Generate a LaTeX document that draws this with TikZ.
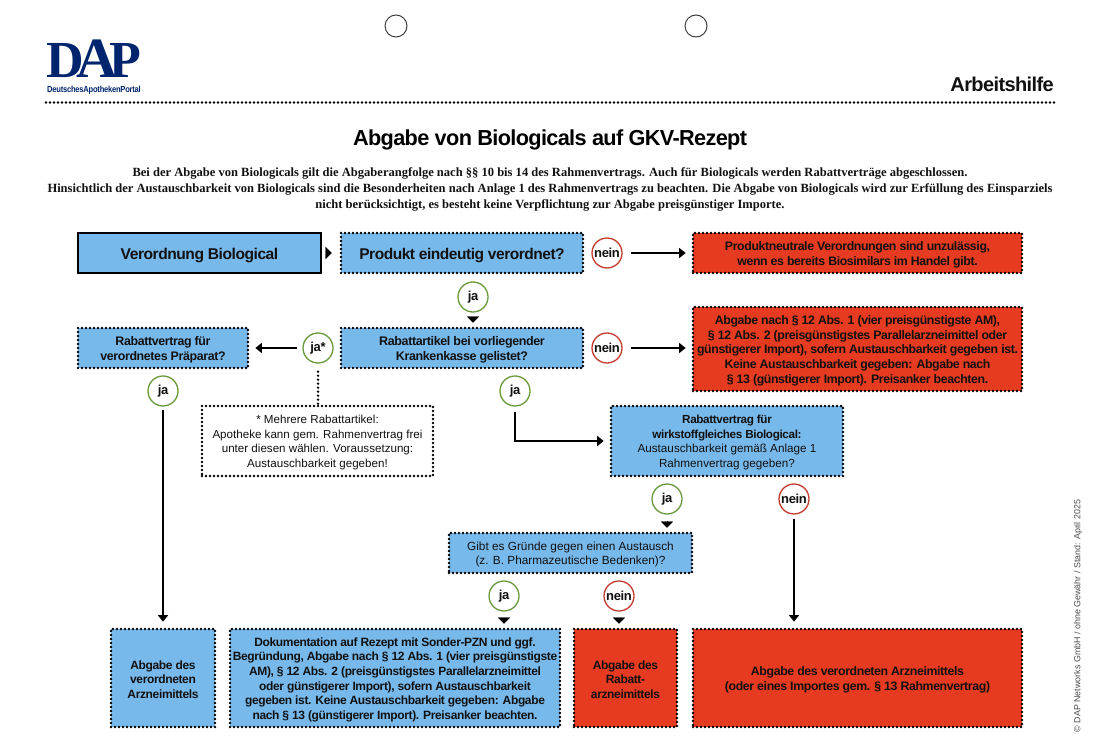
\documentclass[tikz,border=0pt]{standalone}
\usepackage{fontspec}
\setmainfont{Liberation Sans}
\newfontfamily\serifb{Liberation Serif}[BoldFont=* Bold]
\newfontfamily\sansb{Liberation Sans}[BoldFeatures={LetterSpace=-3.0}]
\usetikzlibrary{arrows.meta}
\definecolor{bluefill}{HTML}{78B9EC}
\definecolor{redfill}{HTML}{E63B20}
\definecolor{greenring}{HTML}{6A9A3C}
\definecolor{redring}{HTML}{C43C2E}
\definecolor{navy}{HTML}{00256E}
\definecolor{inkc}{HTML}{111111}
\newcommand{\fs}[2]{\fontsize{#1}{#2}\selectfont}
\newcommand{\lo}{\rule{0pt}{1em}}
\tikzset{
  x=1pt,y=-1pt,
  dotted border/.style={draw=black,line width=2.7pt,line cap=round,dash pattern=on 0pt off 4pt},
  boxbase/.style={dotted border,inner sep=0pt,align=center,text=inkc,font=\sansb\bfseries\fs{12.3}{14.6}},
  bluebox/.style={boxbase,fill=bluefill},
  redbox/.style={boxbase,fill=redfill},
  notebox/.style={boxbase,fill=white,font=\sansb\fs{11.6}{14.6}},
  startbox/.style={draw=black,line width=2pt,fill=bluefill,inner sep=0pt,align=center,text=inkc,font=\sansb\bfseries\fs{15.6}{19}},
  ring/.style={circle,draw,line width=1.3pt,fill=white,minimum size=30pt,inner sep=0pt,text=inkc,font=\sansb\bfseries\fs{13}{14}},
  jaring/.style={ring,draw=greenring},
  neinring/.style={ring,draw=redring},
  hole/.style={circle,draw=black!75,line width=1pt,minimum size=22pt,inner sep=0pt},
  flow/.style={draw=black,line width=1.5pt,-{Triangle[length=6.5pt,width=10pt]}},
  tri/.style={draw=black,line width=0.1pt,-{Triangle[length=6pt,width=12pt]}},
  dotline/.style={dotted border}
}
\begin{document}
\begin{tikzpicture}
\useasboundingbox (0,0) rectangle (1100,746);
% header
\node[hole] (h1) at (396,26) {};
\node[hole] (h2) at (696,26) {};
\node[inner sep=0pt,text=navy,font=\serifb\bfseries\fs{52}{56},anchor=base] (logo) at (94,78) {D\kern-8pt{\fs{57}{57}A}\kern-8pt P};
\node[inner sep=0pt,text=navy,font=\sansb\bfseries\fs{8.8}{10},anchor=base] (logosub) at (94,92.5) {\scalebox{.86}[1]{DeutschesApothekenPortal}};
\node[inner sep=0pt,anchor=base east,text=inkc,font=\sansb\bfseries\fs{20}{22}] (work) at (1054,92) {Arbeitshilfe};
\coordinate (rulea) at (46,102.5);
\coordinate (ruleb) at (1054,102.5);
\draw[dotline] (rulea) -- (ruleb);
\node[inner sep=0pt,text=black,font=\sansb\bfseries\fs{21.7}{24}] (title) at (550,140) {Abgabe von Biologicals auf GKV-Rezept};
\node[inner sep=0pt,align=center,text=inkc,font=\serifb\bfseries\fs{12.54}{15.7}] (intro) at (550,189.5) {Bei der Abgabe von Biologicals gilt die Abgaberangfolge nach §§ 10 bis 14 des Rahmenvertrags. Auch für Biologicals werden Rabattverträge abgeschlossen.\\
Hinsichtlich der Austauschbarkeit von Biologicals sind die Besonderheiten nach Anlage 1 des Rahmenvertrags zu beachten. Die Abgabe von Biologicals wird zur Erfüllung des Einsparziels\\
nicht berücksichtigt, es besteht keine Verpflichtung zur Abgabe preisgünstiger Importe.};
\node[inner sep=0pt,rotate=90,text=black!70,font=\fs{8.9}{10}] (copy) at (1078,616) {© DAP Networks GmbH / ohne Gewähr / Stand: April 2025};
% boxes
\node[startbox,minimum width=243pt,minimum height=40pt] (start) at (199.5,253) {\lo Verordnung Biological};
\node[bluebox,font=\sansb\bfseries\fs{15.5}{19},minimum width=242pt,minimum height=40pt] (q1) at (462,253) {\lo Produkt eindeutig verordnet?};
\node[redbox,minimum width=329pt,minimum height=40pt] (r1) at (857.5,253) {\lo Produktneutrale Verordnungen sind unzulässig,\\wenn es bereits Biosimilars im Handel gibt.};
\node[bluebox,font=\sansb\bfseries\fs{12.5}{14.6},minimum width=242pt,minimum height=40pt] (q2) at (462,348) {\lo Rabattartikel bei vorliegender\\Krankenkasse gelistet?};
\node[bluebox,font=\sansb\bfseries\fs{12.4}{14.6},minimum width=170pt,minimum height=40pt] (q3) at (163,348) {\lo Rabattvertrag für\\verordnetes Präparat?};
\node[redbox,minimum width=329pt,minimum height=84pt] (r2) at (857.5,349) {\lo Abgabe nach § 12 Abs. 1 (vier preisgünstigste AM),\\§ 12 Abs. 2 (preisgünstigstes Parallelarzneimittel oder\\günstigerer Import), sofern Austauschbarkeit gegeben ist.\\Keine Austauschbarkeit gegeben: Abgabe nach\\§ 13 (günstigerer Import). Preisanker beachten.};
\node[notebox,minimum width=231pt,minimum height=70pt] (note) at (317.5,441) {\lo * Mehrere Rabattartikel:\\Apotheke kann gem. Rahmenvertrag frei\\unter diesen wählen. Voraussetzung:\\Austauschbarkeit gegeben!};
\node[bluebox,font=\sansb\bfseries\fs{11.7}{14.6},minimum width=232pt,minimum height=70pt] (q4) at (727,441) {\lo Rabattvertrag für\\wirkstoffgleiches Biological:\\{\mdseries Austauschbarkeit gemäß Anlage 1}\\{\mdseries Rahmenvertrag gegeben?}};
\node[bluebox,font=\sansb\fs{11.8}{14.6},minimum width=243pt,minimum height=40pt] (q5) at (570.5,553) {\lo Gibt es Gründe gegen einen Austausch\\(z. B. Pharmazeutische Bedenken)?};
\node[bluebox,font=\sansb\bfseries\fs{12}{14.6},minimum width=104pt,minimum height=98pt] (e1) at (163,678) {\lo Abgabe des\\verordneten\\Arzneimittels};
\node[bluebox,font=\sansb\bfseries\fs{12}{14.6},minimum width=330pt,minimum height=98pt] (e2) at (395,678) {\lo Dokumentation auf Rezept mit Sonder-PZN und ggf.\\Begründung, Abgabe nach § 12 Abs. 1 (vier preisgünstigste\\AM), § 12 Abs. 2 (preisgünstigstes Parallelarzneimittel\\oder günstigerer Import), sofern Austauschbarkeit\\gegeben ist. Keine Austauschbarkeit gegeben: Abgabe\\nach § 13 (günstigerer Import). Preisanker beachten.};
\node[redbox,font=\sansb\bfseries\fs{12}{14.6},minimum width=103pt,minimum height=98pt] (e3) at (625.5,678) {\lo Abgabe des\\Rabatt-\\arzneimittels};
\node[redbox,minimum width=329pt,minimum height=98pt] (e4) at (857.5,678) {\lo Abgabe des verordneten Arzneimittels\\(oder eines Importes gem. § 13 Rahmenvertrag)};
% rings
\node[neinring] (n1) at (607,253) {nein};
\node[jaring] (j1) at (473,297) {ja};
\node[neinring] (n2) at (607,348) {nein};
\node[jaring] (j2) at (318,348) {ja*};
\node[jaring] (j3) at (163,391) {ja};
\node[jaring] (j4) at (515,391) {ja};
\node[jaring] (j5) at (667,499) {ja};
\node[neinring] (n3) at (794,499) {nein};
\node[jaring] (j6) at (504,596) {ja};
\node[neinring] (n4) at (619,596) {nein};
% connectors
\draw[tri,shorten <=5.5pt,shorten >=8pt] (start.east) -- (q1.west);
\draw[tri,shorten <=6pt,shorten >=4pt] (j1.south) -- (j1.south |- q2.north);
\draw[tri,shorten <=6pt,shorten >=4pt] (j5.south) -- (j5.south |- q5.north);
\draw[tri,shorten <=6pt,shorten >=4pt] (j6.south) -- (j6.south |- e2.north);
\draw[tri,shorten <=6pt,shorten >=4pt] (n4.south) -- (n4.south |- e3.north);
\draw[flow,shorten <=8pt,shorten >=6pt] (n1.east) -- (r1.west);
\draw[flow,shorten <=8pt,shorten >=6pt] (n2.east) -- (n2.east -| r2.west);
\draw[flow,shorten <=5pt,shorten >=6pt] (j2.west) -- (q3.east);
\draw[flow,shorten <=3pt,shorten >=6pt] (j3.south) -- (j3.south |- e1.north);
\draw[flow,shorten <=4pt,shorten >=6pt] (n3.south) -- (n3.south |- e4.north);
\draw[flow,shorten <=5pt,shorten >=6pt] (j4.south) |- (q4.west);
\draw[dotline,shorten <=8pt] (j2.south) -- (j2.south |- note.north);
\end{tikzpicture}
\end{document}
